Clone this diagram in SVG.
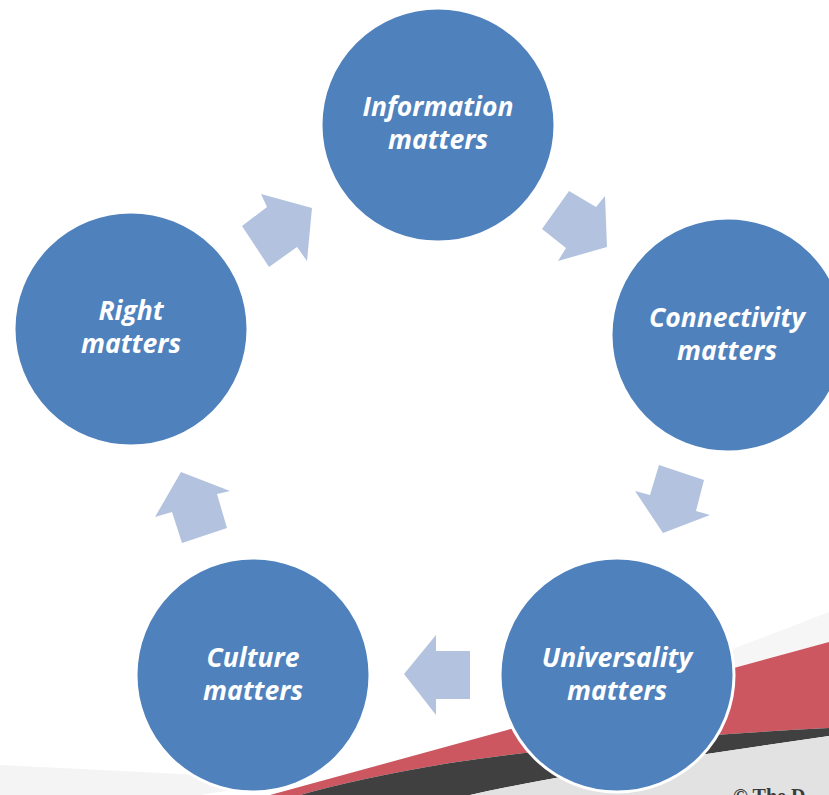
<svg xmlns="http://www.w3.org/2000/svg" width="829" height="795" viewBox="0 0 829 795">
<style>
.node circle{fill:#4f81bd;stroke:#ffffff;stroke-width:3}
.node text{font-family:"Open Sans","Noto Sans",sans-serif;font-weight:bold;font-style:italic;font-size:26.5px;fill:#ffffff;text-anchor:middle}
.arrow{fill:#b3c3df}
</style>
<rect width="829" height="795" fill="#ffffff"/>
<g id="background">
<polygon points="829,612 829,642 560,715" fill="#f6f6f6"/>
<polygon points="0,765 300,780 200,795 0,795" fill="#f4f4f4"/>
<path d="M829,642 L829,728 Q600,740 450,763 Q360,778 300,795 L270,795 Z" fill="#cd5761"/>
<path d="M829,728 L829,736 L700,755 Q560,775 470,795 L300,795 Q360,778 450,763 Q600,740 829,728 Z" fill="#404040"/>
<path d="M829,736 L829,795 L470,795 Q560,775 700,755 Z" fill="#e2e2e2"/>
<text x="733" y="803" font-family="Liberation Serif, serif" font-weight="bold" font-size="20" fill="#3a3a3a">© The D</text>
</g>
<g id="connectors">
<polygon class="arrow" points="542,229 569,191 596,207 605,196 607,247 558,261 566,248"/>
<polygon class="arrow" points="659,465 704,480 696,511 710,515 663,533 635,491 650,495"/>
<polygon class="arrow" points="404,674 436,635 436,651 470,651 470,699 436,699 436,715"/>
<polygon class="arrow" points="181,472 230,491 217,494 227,528 182,543 172,512 155,517"/>
<polygon class="arrow" points="261,194 312,208 307,261 297,247 269,267 242,226 267,207"/>
</g>
<g id="information" class="node">
<circle cx="438" cy="125" r="117"/>
<text x="438" y="116">Information</text>
<text x="438" y="149">matters</text>
</g>
<g id="connectivity" class="node">
<circle cx="728" cy="335" r="117"/>
<text x="727" y="327">Connectivity</text>
<text x="727" y="360">matters</text>
</g>
<g id="universality" class="node">
<circle cx="617" cy="675" r="117"/>
<text x="617" y="667">Universality</text>
<text x="617" y="700">matters</text>
</g>
<g id="culture" class="node">
<circle cx="253" cy="675" r="117"/>
<text x="253" y="667">Culture</text>
<text x="253" y="700">matters</text>
</g>
<g id="right" class="node">
<circle cx="131" cy="329" r="117"/>
<text x="131" y="320">Right</text>
<text x="131" y="353">matters</text>
</g>
</svg>
